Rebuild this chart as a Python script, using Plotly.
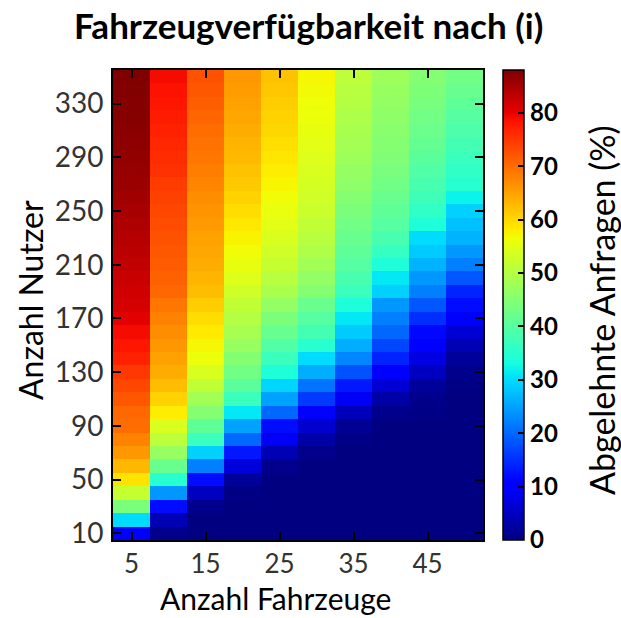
import numpy as np
import plotly.graph_objects as go

# Categories
fahrzeuge = [5, 10, 15, 20, 25, 30, 35, 40, 45, 50]
nutzer = [10, 20, 30, 40, 50, 60, 70, 80, 90, 100, 110, 120, 130, 140, 150, 160, 170,
          180, 190, 200, 210, 220, 230, 240, 250, 260, 270, 280, 290, 300, 310, 320,
          330, 340, 350]

# Rejected requests (%) per vehicle count, rows follow `nutzer`
abgelehnt_5 = [10, 30, 44, 52, 59, 63, 66, 68, 70, 70.5, 72, 73.5, 75, 77, 78, 79, 80.5, 81.5, 82, 82.5,
               83, 83.5, 84, 84.5, 85, 85.5, 86, 86.3, 86.6, 86.9, 87.2, 87.4, 87.6, 87.8, 88]
abgelehnt_10 = [1, 4, 12, 24, 35, 42, 47, 51, 54, 58, 60.5, 62.5, 64, 65, 66, 67, 68, 69, 70.5, 71,
                71.5, 72, 72.5, 73, 73.5, 74, 74.5, 75.5, 76, 76.5, 77, 77.5, 78, 78.5, 79]
abgelehnt_15 = [0, 0, 1, 5, 12, 22, 29, 37, 41, 45, 48, 51.5, 54, 56, 57, 58.3, 59.5, 61, 62.5, 63.2,
                64, 64.5, 65, 65.7, 66.3, 67, 67.7, 68.3, 69, 69.5, 70, 70.7, 71.3, 72, 72.5]
abgelehnt_20 = [0, 0, 0, 0.5, 2, 7, 13, 20, 25, 31, 37, 40.5, 43, 45, 47, 48.5, 50, 51.5, 53, 54.5,
                55.5, 56.5, 57.5, 58.5, 59.5, 60.5, 61.3, 62, 62.7, 63.3, 64, 64.5, 65, 65.5, 66]
abgelehnt_25 = [0, 0, 0, 0, 0, 1, 4, 9, 12, 20, 25, 29.5, 34, 37, 39.5, 41.8, 44, 46.5, 49, 50.5,
                52, 53, 54, 55, 55.8, 56.5, 57.2, 58, 58.7, 59.3, 60, 60.5, 61, 61.5, 62]
abgelehnt_30 = [0, 0, 0, 0, 0, 0, 1, 3, 6, 10.5, 16, 21, 26, 30, 35, 38, 40, 42, 45, 46.5,
                48, 49.5, 50.5, 51.5, 52.5, 53, 53.5, 54, 54.5, 55, 55.5, 56, 56.3, 56.7, 57]
abgelehnt_35 = [0, 0, 0, 0, 0, 0, 0, 0.5, 1.5, 4.5, 9, 13, 18, 22.5, 26, 28.5, 31, 34, 37, 38.5,
                40, 41, 42, 43, 44, 45, 46, 46.8, 47.5, 48.2, 48.8, 49.4, 50, 50.5, 51]
abgelehnt_40 = [0, 0, 0, 0, 0, 0, 0, 0, 0, 1, 3, 6.5, 10, 14, 17, 20, 22, 24, 29, 31,
                34, 36.5, 38.5, 40, 41, 42, 43, 43.8, 44.5, 45, 45.5, 46, 46.5, 47, 47.5]
abgelehnt_45 = [0, 0, 0, 0, 0, 0, 0, 0, 0, 0.5, 1, 2, 5, 7.5, 10, 11.5, 15, 18.5, 22, 24,
                26.5, 28.5, 30, 34, 36, 37.5, 38.5, 39.5, 40.5, 41.5, 42.3, 43, 43.7, 44.3, 45]
abgelehnt_50 = [0, 0, 0, 0, 0, 0, 0, 0, 0, 0, 0, 0.3, 1, 2, 4, 6.5, 10, 12, 14, 18.5,
                22, 24, 26.5, 27.5, 29, 32, 35, 36, 37, 38, 39, 40, 41, 42, 43]

x_ticks = [5, 15, 25, 35, 45]
y_ticks = [10, 50, 90, 130, 170, 210, 250, 290, 330]
cb_ticks = [0, 10, 20, 30, 40, 50, 60, 70, 80]

columns = [abgelehnt_5, abgelehnt_10, abgelehnt_15, abgelehnt_20, abgelehnt_25,
           abgelehnt_30, abgelehnt_35, abgelehnt_40, abgelehnt_45, abgelehnt_50]
z = np.array(columns).T.tolist()

# matplotlib "jet" colormap
_red = [(0, 0), (0.35, 0), (0.66, 1), (0.89, 1), (1, 0.5)]
_green = [(0, 0), (0.125, 0), (0.375, 1), (0.64, 1), (0.91, 0), (1, 0)]
_blue = [(0, 0.5), (0.11, 1), (0.34, 1), (0.65, 0), (1, 0)]


def _ch(seg, t):
    return float(np.interp(t, [p[0] for p in seg], [p[1] for p in seg]))


jet = []
for t in np.linspace(0, 1, 101):
    r, g, b = (_ch(_red, t), _ch(_green, t), _ch(_blue, t))
    jet.append([float(t), f"rgb({round(r*255)},{round(g*255)},{round(b*255)})"])

FONT = "Lato"
NB = "\u00a0"

fig = go.Figure(go.Heatmap(
    x=fahrzeuge, y=nutzer, z=z,
    colorscale=jet, zmin=0, zmax=88,
    colorbar=dict(
        x=1.054, xanchor="left", xpad=0, y=0.5, yanchor="middle",
        len=1, lenmode="fraction", thickness=21, ypad=0,
        outlinecolor="black", outlinewidth=1.5,
        tickvals=cb_ticks, ticks="inside", ticklen=6, tickcolor="black", tickwidth=1.5,
        tickprefix=NB + NB,
        tickfont=dict(family=FONT, size=24, color="black", weight="bold"),
    ),
))

fig.update_layout(
    width=621, height=618,
    margin=dict(l=113, r=138, t=70, b=78),
    paper_bgcolor="white", plot_bgcolor="white",
    title=dict(text="<b>Fahrzeugverfügbarkeit nach (i)</b>", x=0.497, xanchor="center",
               y=1 - 27 / 618, yanchor="middle", xref="container",
               font=dict(family=FONT, size=35, color="black")),
    font=dict(family=FONT),
    annotations=[
        dict(text="Anzahl Fahrzeuge", xref="paper", yref="paper",
             x=(275 - 113) / 370, y=(540 - 618) / 470, xanchor="center", yanchor="bottom",
             showarrow=False, font=dict(family=FONT, size=30, color="black")),
        dict(text="Anzahl Nutzer", xref="paper", yref="paper", textangle=-90,
             x=(30 - 113) / 370, y=(540 - 300) / 470, xanchor="center", yanchor="middle",
             showarrow=False, font=dict(family=FONT, size=32, color="black")),
        dict(text="Abgelehnte Anfragen (%)", xref="paper", yref="paper", textangle=-90,
             x=(601 - 113) / 370, y=(540 - 310) / 470, xanchor="center", yanchor="middle",
             showarrow=False, font=dict(family=FONT, size=34, color="black")),
    ],
)

fig.update_xaxes(
    range=[2.5, 52.5], tickvals=x_ticks, ticks="inside", ticklen=8, tickwidth=1.5,
    tickcolor="black", showline=True, linecolor="black", linewidth=2, mirror="ticks",
    showgrid=False, zeroline=False, ticklabelstandoff=0,
    tickfont=dict(family=FONT, size=26, color="#333333"),
)
fig.update_yaxes(
    range=[5, 355], tickvals=y_ticks, ticks="inside", ticklen=8, tickwidth=1.5,
    tickcolor="black", showline=True, linecolor="black", linewidth=2, mirror="ticks",
    showgrid=False, zeroline=False, ticklabelstandoff=2,
    tickfont=dict(family=FONT, size=28, color="#333333"),
)

fig.write_html("out.html")
